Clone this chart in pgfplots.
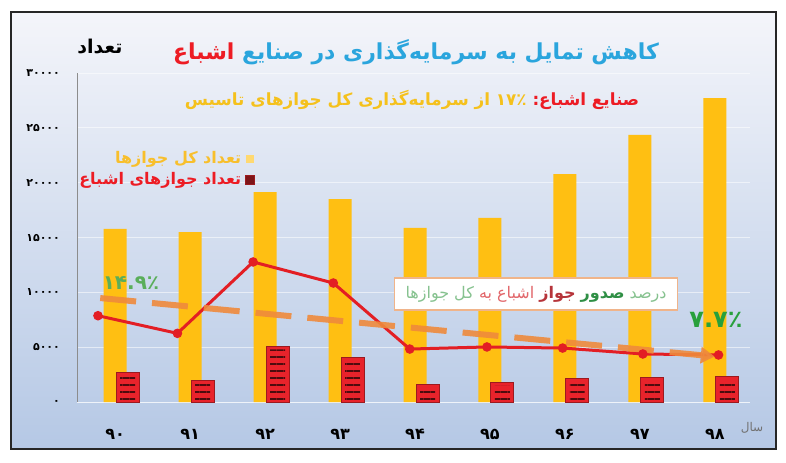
\documentclass[border=0pt]{standalone}
\usepackage{pgfplots}
\pgfplotsset{compat=1.18}
\usepackage{fontspec}
\setmainfont{DejaVu Sans}
\newfontfamily\fa[Script=Arabic]{DejaVu Sans}
\usetikzlibrary{patterns.meta,arrows.meta}
\TeXXeTstate=1

\definecolor{bgtop}{HTML}{F4F5FA}
\definecolor{bgmid}{HTML}{D3DEEF}
\definecolor{bgbot}{HTML}{B5C8E5}
\definecolor{baror}{HTML}{FFBF12}
\definecolor{barred}{HTML}{E8232B}
\definecolor{barredd}{HTML}{9C1A1F}
\definecolor{stripe}{HTML}{4D0C0E}
\definecolor{linered}{HTML}{E31E24}
\definecolor{trend}{HTML}{EF8A3C}
\definecolor{tcyan}{HTML}{2AA5DD}
\definecolor{tred}{HTML}{ED1C24}
\definecolor{tyel}{HTML}{F5C11C}
\definecolor{legor}{HTML}{F8BF2C}
\definecolor{gra}{HTML}{5AAE5A}
\definecolor{grb}{HTML}{28A03C}
\definecolor{boxor}{HTML}{F0B48A}
\definecolor{bxga}{HTML}{86C28F}
\definecolor{bxgb}{HTML}{2F8F45}
\definecolor{bxra}{HTML}{B6343A}
\definecolor{bxrb}{HTML}{E2676B}

\begin{document}
\begin{tikzpicture}
% frame and background, in pixel units of the reference
\begin{scope}[x=0.5pt,y=-0.5pt]
  \path[use as bounding box] (0,0) rectangle (786,462);
  \fill[white] (0,0) rectangle (786,462);
  \shade[top color=bgtop, middle color=bgmid, bottom color=bgbot] (11,12) rectangle (776,449);
  \draw[black!85, line width=0.7pt] (11,12) rectangle (776,449);
\end{scope}

\begin{axis}[
  at={(38.5pt,-201pt)}, anchor=south west,
  scale only axis, width=336.5pt, height=164.5pt,
  xmin=-0.51, xmax=8.47, ymin=0, ymax=30000,
  axis x line*=bottom, axis y line*=left,
  x axis line style={draw=white, opacity=0.5},
  y axis line style={draw=black!45, line width=0.4pt},
  major tick length=0pt,
  scaled y ticks=false,
  ymajorgrids, grid style={white, opacity=0.55, line width=0.4pt},
  xtick={0,...,8},
  xticklabels={۹۰,۹۱,۹۲,۹۳,۹۴,۹۵,۹۶,۹۷,۹۸},
  ytick={0,5000,...,30000},
  yticklabels={۰,۵۰۰۰,۱۰۰۰۰,۱۵۰۰۰,۲۰۰۰۰,۲۵۰۰۰,۳۰۰۰۰},
  xticklabel style={font=\fa\bfseries\fontsize{8}{8}\selectfont, yshift=-10pt},
  yticklabel style={font=\fa\bfseries\fontsize{5.5}{6}\selectfont, xshift=-5pt},
  legend style={at={(0.265,0.775)}, anchor=north east, draw=none, fill=none,
    font=\fa\bfseries\fontsize{8}{10}\selectfont, row sep=-1pt, inner sep=0pt},
  legend cell align=right, legend plot pos=right,
]
\addplot[ybar, bar width=11.5pt, bar shift=0pt, fill=baror, draw=none,
  legend image code/.code={\fill[fill=baror!60!white] (0pt,-2.2pt) rectangle (4.4pt,2.2pt);}]
  coordinates {(0,15780) (1,15500) (2,19150) (3,18510) (4,15870) (5,16780) (6,20790) (7,24350) (8,27720)};
\addlegendentry{\textcolor{legor}{\beginR تعداد کل جوازها\endR}}
\addplot[ybar, bar width=11.5pt, bar shift=6.25pt, fill=barred, draw=barredd, line width=0.5pt,
  legend image code/.code={\fill[fill=barredd!80!black] (0pt,-2.2pt) rectangle (4.4pt,2.2pt);}]
  coordinates {(0,2650) (1,2000) (2,5100) (3,4100) (4,1640) (5,1760) (6,2100) (7,2190) (8,2370)};
\addlegendentry{\textcolor{tred}{\beginR تعداد جوازهای اشباع\endR}}
\addplot[ybar, bar width=7.5pt, bar shift=6.25pt, draw=none, forget plot,
  pattern={Lines[distance=3.5pt, line width=0.65pt, angle=0]}, pattern color=stripe]
  coordinates {(0,2350) (1,1700) (2,4800) (3,3800) (4,1350) (5,1470) (6,1800) (7,1890) (8,2070)};
% share of saturated licences
\addplot[linered, line width=1.5pt, mark=*, mark size=1.6pt, forget plot]
  coordinates {(-0.23,7870) (0.83,6260) (1.84,12770) (2.91,10850) (3.93,4830) (4.96,5020) (5.97,4920) (7.04,4380) (8.05,4290)};
% trend
\addplot[trend, opacity=0.9, line width=3pt, dash pattern=on 18pt off 8pt,
  -{Triangle[length=7pt, width=8pt]}, forget plot]
  coordinates {(-0.2,9480) (8.0,4150)};
\end{axis}

\begin{scope}[x=0.5pt,y=-0.5pt]
  % coloured runs are set left to right, each run right to left
  \node at (416,52) {\fa\bfseries\fontsize{11}{13}\selectfont\textcolor{tred}{\beginR اشباع\endR} \textcolor{tcyan}{\beginR کاهش تمایل به سرمایه‌گذاری در صنایع\endR}};
  \node at (100,47) {\fa\bfseries\fontsize{9.5}{10}\selectfont\beginR تعداد\endR};
  \node at (412,100) {\fa\bfseries\fontsize{8.4}{10}\selectfont\textcolor{tyel}{\beginR ۱۷٪ از سرمایه‌گذاری کل جوازهای تاسیس\endR} \textcolor{tred}{\beginR صنایع اشباع:\endR}};
  \node[text=black!55] at (752,428) {\fa\fontsize{6}{6}\selectfont\beginR سال\endR};
  \node[text=gra] at (131,283) {\fa\bfseries\fontsize{10}{10}\selectfont ۱۴.۹٪};
  \node[text=grb] at (716,320) {\fa\bfseries\fontsize{12}{12}\selectfont ۷.۷٪};
  \node[draw=boxor, line width=0.6pt, fill=white, minimum width=141.5pt, minimum height=16pt] at (536,294)
    {\fa\fontsize{8}{10}\selectfont\textcolor{bxga}{\beginR کل جوازها\endR} \textcolor{bxrb}{\beginR اشباع به\endR} \textcolor{bxra}{\bfseries\beginR جواز\endR} \textcolor{bxgb}{\bfseries\beginR صدور\endR} \textcolor{bxga}{\beginR درصد\endR}};
\end{scope}
\end{tikzpicture}
\end{document}
